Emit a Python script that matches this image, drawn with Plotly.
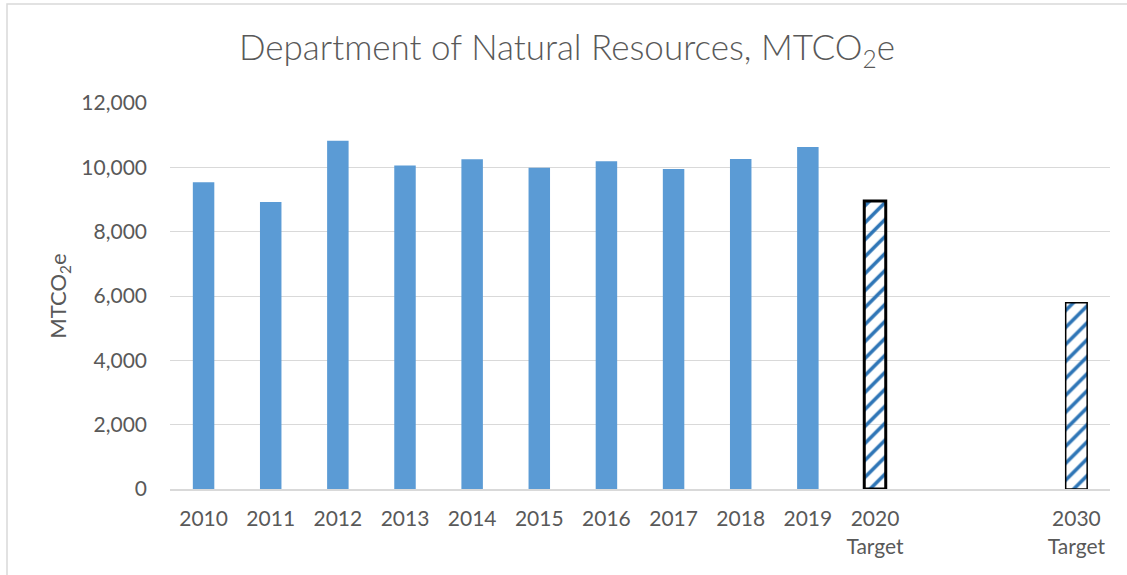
import plotly.graph_objects as go

# ---- data ----
categories = ["2010", "2011", "2012", "2013", "2014", "2015", "2016",
              "2017", "2018", "2019", "2020 Target", "gap1", "gap2", "2030 Target"]
tick_labels = {"2010": "2010", "2011": "2011", "2012": "2012", "2013": "2013",
               "2014": "2014", "2015": "2015", "2016": "2016", "2017": "2017",
               "2018": "2018", "2019": "2019", "2020 Target": "2020<br>Target",
               "2030 Target": "2030<br>Target"}
values = [9540, 8920, 10830, 10060, 10250, 9990, 10190,
          9950, 10260, 10630, 8950, None, None, 5790]
is_target = [False] * 10 + [True, False, False, True]

# ---- styles ----
SOLID = "#5B9BD5"
HATCH = "#2E75B6"
TEXT = "#595959"
GRID = "#D9D9D9"
FONT = "Lato"

colors = [HATCH if t else SOLID for t in is_target]
shapes = ["/" if t else "" for t in is_target]
line_w = [0] * len(categories)
line_w[10] = 3
line_w[13] = 1.5
line_c = ["#000000" if t else SOLID for t in is_target]

fig = go.Figure(go.Bar(
    x=categories,
    y=values,
    marker=dict(
        color=colors,
        line=dict(width=line_w, color=line_c),
        pattern=dict(shape=shapes, fgcolor=HATCH, bgcolor="white",
                     size=12, solidity=0.3, fillmode="replace"),
    ),
    hoverinfo="x+y",
))

W, H = 1127, 575
L, R, T, B = 170, 17, 103, 86
pw, ph = W - L - R, H - T - B

def px_x(p):
    return (p - L) / pw

def px_y(p):
    return (H - B - p) / ph

fig.update_layout(
    width=W, height=H,
    margin=dict(l=L, r=R, t=T, b=B),
    paper_bgcolor="white", plot_bgcolor="white",
    bargap=0.68,
    showlegend=False,
    font=dict(family=FONT, color=TEXT, size=21),
    title=dict(text="Department of Natural Resources, MTCO<sub>2</sub>e",
               x=567 / W, xref="container", xanchor="center",
               y=1 - 48 / H, yref="container", yanchor="middle",
               font=dict(family=FONT, size=35, color=TEXT, weight=300)),
    xaxis=dict(
        type="category",
        categoryorder="array", categoryarray=categories,
        tickmode="array", tickvals=list(tick_labels.keys()),
        ticktext=list(tick_labels.values()),
        showline=True, linecolor=GRID, linewidth=2,
        showgrid=False, ticks="", ticklabelstandoff=10,
        tickfont=dict(size=21, color=TEXT),
    ),
    yaxis=dict(
        range=[0, 12000], dtick=2000, tickformat=",",
        showgrid=True, gridcolor=GRID, gridwidth=1.3,
        zeroline=False, showline=False, ticks="",
        ticklabelstandoff=22,
        tickfont=dict(size=21, color=TEXT),
        title=dict(text="MTCO<sub>2</sub>e", standoff=8,
                   font=dict(size=22, color=TEXT)),
    ),
    shapes=[dict(type="rect", xref="paper", yref="paper",
                 x0=px_x(7), x1=px_x(1140), y0=px_y(590), y1=px_y(4),
                 line=dict(color="#D9D9D9", width=1.5), fillcolor="rgba(0,0,0,0)",
                 layer="below")],
)

fig.write_html("out.html", post_script="document.body.style.margin='0';",
               config={"displayModeBar": False})
